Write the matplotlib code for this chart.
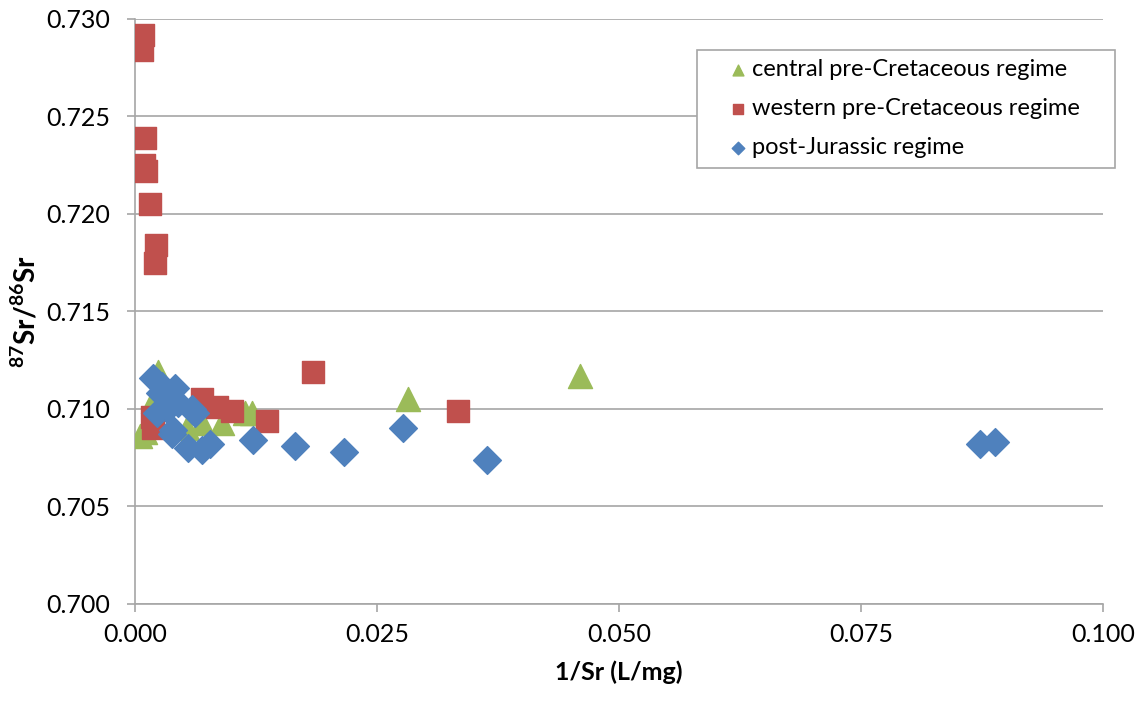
import matplotlib.pyplot as plt
from matplotlib.patches import Rectangle
from matplotlib.ticker import MultipleLocator, FormatStrFormatter

plt.rcParams['font.family'] = ['Lato', 'DejaVu Sans']
plt.rcParams['mathtext.fontset'] = 'custom'
plt.rcParams['mathtext.bf'] = 'Lato:bold'
plt.rcParams['mathtext.rm'] = 'Lato'

# central pre-Cretaceous regime
central_x = [0.0005, 0.0010, 0.0019, 0.0024, 0.0054, 0.0069, 0.0090, 0.0114, 0.0121, 0.0282, 0.0460]
central_y = [0.7086, 0.7088, 0.7104, 0.7119, 0.7090, 0.7093, 0.7093, 0.7098, 0.7098, 0.7105, 0.7117]

# western pre-Cretaceous regime
western_x = [0.0008, 0.0007, 0.0010, 0.0009, 0.0011, 0.0015, 0.0022, 0.0021,
             0.0018, 0.0019, 0.0069, 0.0085, 0.0100, 0.0136, 0.0184, 0.0334]
western_y = [0.7292, 0.7284, 0.7239, 0.7225, 0.7222, 0.7205, 0.7184, 0.7175,
             0.7096, 0.7090, 0.7105, 0.7101, 0.7099, 0.7094, 0.7119, 0.7099]

# post-Jurassic regime
post_x = [0.0019, 0.0028, 0.0041, 0.0026, 0.0033, 0.0044, 0.0059, 0.0062, 0.0039, 0.0038,
          0.0023, 0.0055, 0.0069, 0.0077, 0.0122, 0.0165, 0.0216, 0.0277, 0.0364, 0.0873, 0.0888]
post_y = [0.7116, 0.7112, 0.7111, 0.7108, 0.7100, 0.7103, 0.7100, 0.7098, 0.7089, 0.7087,
          0.7098, 0.7080, 0.7079, 0.7082, 0.7084, 0.7081, 0.7078, 0.7090, 0.7074, 0.7082, 0.7083]

fig = plt.figure(figsize=(11.43, 7.06), dpi=100)
ax = fig.add_axes([0.1181, 0.1445, 0.8469, 0.8286])

ax.scatter(central_x, central_y, marker='^', s=300, color='#9BBB59', zorder=3,
           label='central pre-Cretaceous regime')
ax.scatter(western_x, western_y, marker='s', s=270, color='#C0504D', zorder=3,
           label='western pre-Cretaceous regime')
ax.scatter(post_x, post_y, marker='D', s=200, color='#4F81BD', zorder=3,
           label='post-Jurassic regime')

ax.set_xlim(0, 0.100)
ax.set_ylim(0.700, 0.730)
ax.xaxis.set_major_locator(MultipleLocator(0.025))
ax.yaxis.set_major_locator(MultipleLocator(0.005))
ax.xaxis.set_major_formatter(FormatStrFormatter('%.3f'))
ax.yaxis.set_major_formatter(FormatStrFormatter('%.3f'))
ax.grid(axis='y', color='#A6A6A6', linewidth=1.2)
ax.set_axisbelow(True)
for side in ['top', 'right']:
    ax.spines[side].set_visible(False)
for side in ['left', 'bottom']:
    ax.spines[side].set_color('#A6A6A6')
    ax.spines[side].set_linewidth(1.2)
ax.tick_params(axis='both', labelsize=18, labelcolor='black', length=6, width=1.2,
               color='#A6A6A6', direction='out')
ax.tick_params(axis='y', pad=12)
ax.tick_params(axis='x', pad=8)

ax.set_xlabel('1/Sr (L/mg)', fontsize=18, fontweight='bold', labelpad=10)
ax.set_ylabel(r'$\mathbf{^{87}Sr/^{86}Sr}$', fontsize=20, labelpad=4)

# legend box drawn separately to get Excel-like padding
frame = Rectangle((0.5806, 0.745), 0.4318, 0.202, transform=ax.transAxes, clip_on=False,
                  facecolor='white', edgecolor='#A6A6A6', linewidth=1.2, zorder=4)
ax.add_patch(frame)
leg = ax.legend(loc='upper left', bbox_to_anchor=(0.6105, 0.9316), fontsize=17, markerscale=0.45,
                frameon=False, borderpad=0.0, labelspacing=0.76,
                handlelength=1.0, handletextpad=0.1, borderaxespad=0.0)
leg.set_zorder(5)

fig.savefig('out.png', dpi=100)
